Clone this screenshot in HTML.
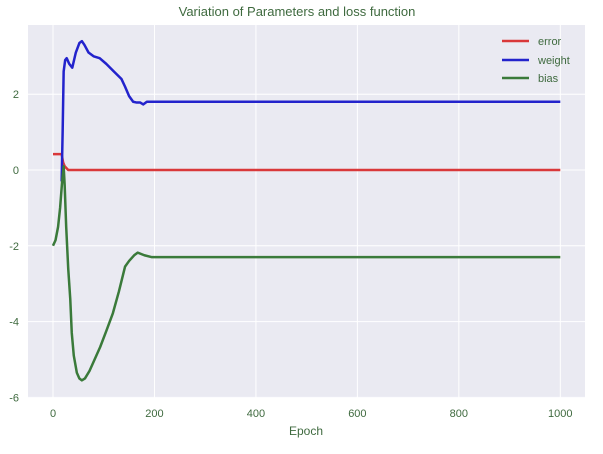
<!DOCTYPE html>
<html><head><meta charset="utf-8"><style>
body{margin:0;background:#fff;font-family:"Liberation Sans",sans-serif}
svg text{font-family:"Liberation Sans",sans-serif;fill:#3f6a3f}
</style></head><body>
<svg width="603" height="449" id="c">
<text x="297" y="16" text-anchor="middle" font-size="13">Variation of Parameters and loss function</text>
<rect x="28" y="25" width="557" height="373" fill="#eaeaf2"/>
<g id="grid"></g><g id="series"></g>
<text x="306" y="435" text-anchor="middle" font-size="12">Epoch</text>
<g>
<line x1="502" y1="41" x2="529" y2="41" stroke="#d9383a" stroke-width="2.5"/><text x="538" y="45" font-size="11">error</text>
<line x1="502" y1="60" x2="529" y2="60" stroke="#2323cc" stroke-width="2.5"/><text x="538" y="64" font-size="11">weight</text>
<line x1="502" y1="78" x2="529" y2="78" stroke="#3a7a3a" stroke-width="2.5"/><text x="538" y="82" font-size="11">bias</text>
</g>
</svg>
<script>
const xTicks=[0,200,400,600,800,1000];
const yTicks=[-6,-4,-2,0,2];
const errX=[0,17,20,23,30,1000];
const errY=[0.42,0.42,0.2,0.1,0.0,0.0];
const wX=[17,19,21,24,27,32,38,45,52,57,62,70,80,92,105,120,135,142,150,158,165,172,178,185,200,1000];
const wY=[-0.3,1.0,2.6,2.9,2.95,2.8,2.7,3.1,3.35,3.4,3.3,3.1,3.0,2.95,2.8,2.6,2.4,2.2,1.95,1.8,1.78,1.78,1.73,1.8,1.8,1.8];
const bX=[0,5,10,14,18,21,23,26,30,34,37,41,47,52,57,63,72,82,93,105,118,130,142,150,160,167,180,195,1000];
const bY=[-2,-1.85,-1.5,-1.0,-0.3,0.1,-0.4,-1.5,-2.6,-3.4,-4.3,-4.9,-5.35,-5.5,-5.55,-5.5,-5.3,-5.0,-4.67,-4.25,-3.78,-3.2,-2.55,-2.4,-2.25,-2.18,-2.25,-2.3,-2.3];
const xs=v=>53+v*0.5073, ys=v=>170-v*37.9;
const NS="http://www.w3.org/2000/svg";
const g=document.getElementById('grid'), s=document.getElementById('series'), c=document.getElementById('c');
xTicks.forEach(t=>{const l=document.createElementNS(NS,'line');l.setAttribute('x1',xs(t));l.setAttribute('x2',xs(t));l.setAttribute('y1',25);l.setAttribute('y2',398);l.setAttribute('stroke','#fff');l.setAttribute('stroke-width','1');

g.appendChild(l);
const tx=document.createElementNS(NS,'text');tx.setAttribute('x',xs(t));tx.setAttribute('y',417);tx.setAttribute('text-anchor','middle');tx.setAttribute('font-size','11');tx.textContent=t;

c.appendChild(tx);});
yTicks.forEach(t=>{const l=document.createElementNS(NS,'line');l.setAttribute('x1',28);l.setAttribute('x2',585);l.setAttribute('y1',ys(t));l.setAttribute('y2',ys(t));l.setAttribute('stroke','#fff');

g.appendChild(l);
const tx=document.createElementNS(NS,'text');tx.setAttribute('x',19);tx.setAttribute('y',ys(t)+4);tx.setAttribute('text-anchor','end');tx.setAttribute('font-size','11');tx.textContent=t;

c.appendChild(tx);});
function line(X,Y,col,name){const p=document.createElementNS(NS,'polyline');p.setAttribute('points',X.map((x,i)=>xs(x)+','+ys(Y[i])).join(' '));p.setAttribute('fill','none');p.setAttribute('stroke',col);p.setAttribute('stroke-width','2.5');p.setAttribute('stroke-linejoin','round');

s.appendChild(p);}
line(errX,errY,'#d9383a','error-line');
line(wX,wY,'#2323cc','weight-line');
line(bX,bY,'#3a7a3a','bias-line');
</script>
</body></html>
